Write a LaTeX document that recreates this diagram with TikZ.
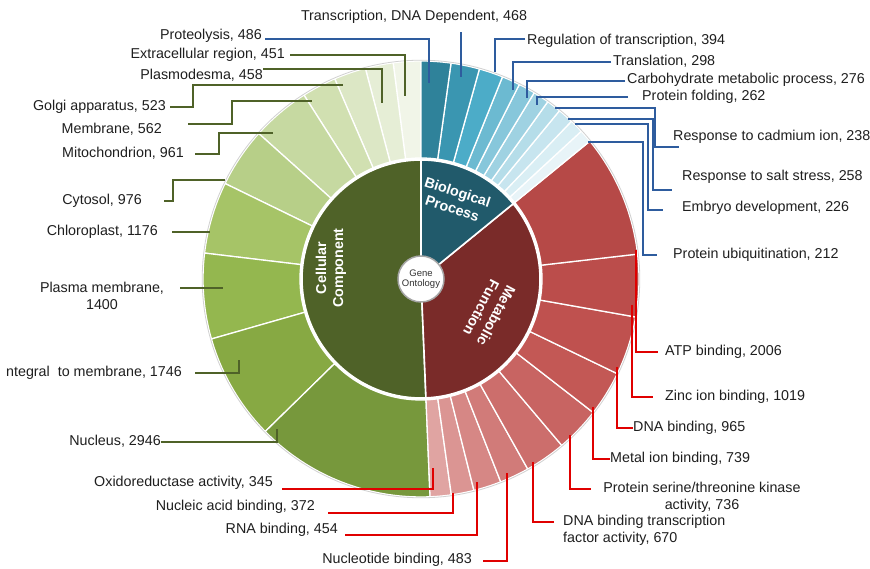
\documentclass[tikz,border=0pt]{standalone}
\usepackage{fontspec}
\setmainfont{Liberation Sans}
\usetikzlibrary{calc}
% inner sectors
\definecolor{ccIn}{HTML}{4F6228}
\definecolor{mfIn}{HTML}{7A2B29}
\definecolor{bpIn}{HTML}{215A6B}
% cellular component
\definecolor{cA}{HTML}{F1F5E8}
\definecolor{cB}{HTML}{E6EED6}
\definecolor{cC}{HTML}{DCE7C5}
\definecolor{cD}{HTML}{D1E0B1}
\definecolor{cE}{HTML}{C6D9A1}
\definecolor{cF}{HTML}{B7CF88}
\definecolor{cG}{HTML}{A6C467}
\definecolor{cH}{HTML}{94B74F}
\definecolor{cI}{HTML}{87A943}
\definecolor{cJ}{HTML}{77983C}
% metabolic function
\definecolor{mA}{HTML}{E0A4A2}
\definecolor{mB}{HTML}{DB9593}
\definecolor{mC}{HTML}{D68785}
\definecolor{mD}{HTML}{D17B79}
\definecolor{mE}{HTML}{CC6E6C}
\definecolor{mF}{HTML}{C86462}
\definecolor{mG}{HTML}{C35855}
\definecolor{mH}{HTML}{BF514F}
\definecolor{mI}{HTML}{BB4D4B}
\definecolor{mJ}{HTML}{B64947}
% biological process
\definecolor{bA}{HTML}{E8F4F8}
\definecolor{bB}{HTML}{D9EEF4}
\definecolor{bC}{HTML}{C7E5EF}
\definecolor{bD}{HTML}{B5DDE9}
\definecolor{bE}{HTML}{9FD2E2}
\definecolor{bF}{HTML}{87C7DB}
\definecolor{bG}{HTML}{6CBAD1}
\definecolor{bH}{HTML}{4CACC8}
\definecolor{bI}{HTML}{3A96B1}
\definecolor{bJ}{HTML}{2F829A}
% leader lines
\definecolor{lgreen}{HTML}{4F6228}
\definecolor{lblue}{HTML}{2E5C9E}
\definecolor{lred}{HTML}{E00000}
\newcommand{\rseg}[3]{\filldraw[fill=#3, draw=white, line width=1.3pt] (#1:121pt) arc[start angle=#1, end angle=#2, radius=121pt] -- (#2:218pt) arc[start angle=#2, end angle=#1, radius=218pt] -- cycle;}
\newcommand{\iseg}[3]{\filldraw[fill=#3, draw=white, line width=1.6pt] (0,0) -- (#1:119pt) arc[start angle=#1, end angle=#2, radius=119pt] -- cycle;}
\begin{document}
\begin{tikzpicture}[x=1pt,y=1pt,
  lab/.style={font=\fontsize{14.3}{16.5}\selectfont, inner sep=0pt, text=black!88},
  lab1/.style={lab, text height=10.5pt, text depth=3pt},
  gl/.style={draw=lgreen, line width=1.4pt},
  bl/.style={draw=lblue, line width=1.4pt},
  rl/.style={draw=lred, line width=1.4pt},
  inlab/.style={font=\bfseries\fontsize{14.3}{17}\selectfont, text=white, align=center, inner sep=0pt},
]
\fill[white] (0,0) rectangle (870,569);
\useasboundingbox (0,0) rectangle (870,569);

\begin{scope}[shift={(421,290)}]
  % outer ring: cellular component
  \rseg{90}{97.34}{cA}
  \rseg{97.34}{104.80}{cB}
  \rseg{104.80}{113.32}{cC}
  \rseg{113.32}{122.47}{cD}
  \rseg{122.47}{138.12}{cE}
  \rseg{138.12}{154.02}{cF}
  \rseg{154.02}{173.17}{cG}
  \rseg{173.17}{195.97}{cH}
  \rseg{195.97}{224.40}{cI}
  \rseg{224.40}{272.38}{cJ}
  % outer ring: metabolic function
  \rseg{272.38}{278.00}{mA}
  \rseg{278.00}{284.06}{mB}
  \rseg{284.06}{291.45}{mC}
  \rseg{291.45}{299.32}{mD}
  \rseg{299.32}{310.23}{mE}
  \rseg{310.23}{322.21}{mF}
  \rseg{322.21}{334.25}{mG}
  \rseg{334.25}{349.96}{mH}
  \rseg{349.96}{366.56}{mI}
  \rseg{366.56}{399.22}{mJ}
  % outer ring: biological process
  \rseg{399.22}{402.67}{bA}
  \rseg{402.67}{406.35}{bB}
  \rseg{406.35}{410.55}{bC}
  \rseg{410.55}{414.43}{bD}
  \rseg{414.43}{418.70}{bE}
  \rseg{418.70}{423.19}{bF}
  \rseg{423.19}{428.05}{bG}
  \rseg{428.05}{434.46}{bH}
  \rseg{434.46}{442.08}{bI}
  \rseg{442.08}{450}{bJ}
  \draw[black!18, line width=0.8pt] (0,0) circle[radius=218.8pt];
  % inner ring
  \iseg{90}{272.38}{ccIn}
  \iseg{272.38}{399.22}{mfIn}
  \iseg{399.22}{450}{bpIn}
  % centre
  \node[circle, fill=white, draw=black!35, line width=1.5pt, minimum size=46pt, inner sep=0pt,
        font=\fontsize{9.5}{10.5}\selectfont, text=black!80, align=center] (go) at (0,0) {Gene\\Ontology};
\end{scope}

% inner labels
\node[inlab, rotate=90] (ccT) at (331,301) {Cellular\\Component};
\node[inlab, rotate=-18] (bpT) at (455,369) {Biological\\Process};
\node[inlab, rotate=-118] (mfT) at (489,257) {Metabolic\\Function};

% segment anchor points
\coordinate (pExt) at (405,473);
\coordinate (pPlas) at (382,466);
\coordinate (pGolgi) at (343,484);
\coordinate (pMem) at (312,468);
\coordinate (pMito) at (273,436);
\coordinate (pCyto) at (225,389);
\coordinate (pChlo) at (210,337);
\coordinate (pPM) at (223,281);
\coordinate (pInt) at (239,209);
\coordinate (pNuc) at (277,140);
\coordinate (pProt) at (429,486);
\coordinate (pTr) at (461,492);
\coordinate (pReg) at (495,497);
\coordinate (pTrl) at (513,479);
\coordinate (pCarb) at (527,471);
\coordinate (pFold) at (537,464);
\coordinate (pCad) at (555,461);
\coordinate (pSalt) at (568,450);
\coordinate (pEmb) at (575,445);
\coordinate (pUbi) at (588,427);
\coordinate (pATP) at (636,319);
\coordinate (pZn) at (632,264);
\coordinate (pDNA) at (617,202);
\coordinate (pMet) at (593,162);
\coordinate (pSer) at (570,134);
\coordinate (pTF) at (533,107);
\coordinate (pNt) at (507,96);
\coordinate (pRNA) at (477,87);
\coordinate (pNab) at (453,76);
\coordinate (pOx) at (433,101);

% cellular component labels
\node[lab1, anchor=east] (ext) at (285,514) {Extracellular region, 451};
\node[lab1, anchor=east] (plas) at (263,493) {Plasmodesma, 458};
\node[lab1, anchor=east] (golgi) at (166,462) {Golgi apparatus, 523};
\node[lab1, anchor=east] (mem) at (162,439) {Membrane, 562};
\node[lab1, anchor=east] (mito) at (184,415) {Mitochondrion, 961};
\node[lab1, anchor=east] (cyto) at (142,368) {Cytosol, 976};
\node[lab1, anchor=east] (chlo) at (158,337) {Chloroplast, 1176};
\node[lab, align=center] (pm) at (102,273) {Plasma membrane,\\1400};
\begin{scope}
  \clip (6,0) rectangle (870,569);
  \node[lab1, anchor=east] (int) at (182,196) {Integral\ \ to membrane, 1746};
\end{scope}
\node[lab1, anchor=east] (nuc) at (161,127) {Nucleus, 2946};

% biological process labels
\node[lab1, anchor=east] (prot) at (262,533) {Proteolysis, 486};
\node[lab1] (tr) at (414,552) {Transcription, DNA Dependent, 468};
\node[lab1, anchor=west] (reg) at (527,528) {Regulation of transcription, 394};
\node[lab1, anchor=west] (trl) at (613,507) {Translation, 298};
\node[lab1, anchor=west] (carb) at (627,489) {Carbohydrate metabolic process, 276};
\node[lab1, anchor=west] (fold) at (642,472) {Protein folding, 262};
\node[lab1, anchor=west] (cad) at (673,432) {Response to cadmium ion, 238};
\node[lab1, anchor=west] (salt) at (682,392) {Response to salt stress, 258};
\node[lab1, anchor=west] (emb) at (682,361) {Embryo development, 226};
\node[lab1, anchor=west] (ubi) at (673,314) {Protein ubiquitination, 212};

% metabolic function labels
\node[lab1, anchor=west] (atp) at (665,217) {ATP binding, 2006};
\node[lab1, anchor=west] (zn) at (665,172) {Zinc ion binding, 1019};
\node[lab1, anchor=west] (dna) at (633,141) {DNA binding, 965};
\node[lab1, anchor=west] (met) at (610,110) {Metal ion binding, 739};
\node[lab, align=center] (ser) at (702,71.5) {Protein serine/threonine kinase\\activity, 736};
\node[lab, align=left, anchor=west] (tf) at (563,38.5) {DNA binding transcription\\factor activity, 670};
\node[lab1, anchor=east] (nt) at (472,9) {Nucleotide binding, 483};
\node[lab1, anchor=east] (rna) at (338,39) {RNA binding, 454};
\node[lab1, anchor=east] (nab) at (315,62) {Nucleic acid binding, 372};
\node[lab1, anchor=east] (ox) at (273,86) {Oxidoreductase activity, 345};

% green leaders
\draw[gl] ([xshift=5pt]ext.east) -| (pExt);
\draw[gl] ([yshift=7pt]plas.east) -| (pPlas);
\draw[gl] ([xshift=4pt]golgi.east) -- ++(23,0) |- (pGolgi);
\draw[gl] ([xshift=26pt,yshift=6pt]mem.east) -- ++(44,0) |- (pMem);
\draw[gl] ([xshift=11pt]mito.east) -- ++(24,0) |- (pMito);
\draw[gl] ([xshift=22pt]cyto.east) -- ++(9,0) |- (pCyto);
\draw[gl] ([xshift=14pt]chlo.east) -- (pChlo);
\draw[gl] ($(pm.east |- pPM)+(16pt,0)$) -- (pPM);
\draw[gl] ([xshift=13pt]int.east) -| (pInt);
\draw[gl] (nuc.east) -| (pNuc);

% blue leaders
\draw[bl] ([xshift=3pt,yshift=-3pt]prot.east) -| (pProt);
\draw[bl] (pTr) -- ($(pTr |- tr.south)+(0,-8pt)$);
\draw[bl] ([xshift=-2pt,yshift=2pt]reg.west) -| (pReg);
\draw[bl] ([xshift=-2pt]trl.west) -| (pTrl);
\draw[bl] ([xshift=-2pt,yshift=-1pt]carb.west) -| (pCarb);
\draw[bl] ([xshift=-14pt]fold.west) -| (pFold);
\draw[bl] (pCad) -| ([xshift=-18pt,yshift=-10pt]cad.west) -- ([xshift=6pt,yshift=-10pt]cad.west);
\draw[bl] (pSalt) -| ([xshift=-29pt,yshift=-13pt]salt.west) -- ([xshift=-10pt,yshift=-13pt]salt.west);
\draw[bl] (pEmb) -| ([xshift=-34pt,yshift=-2pt]emb.west) -- ([xshift=-19pt,yshift=-2pt]emb.west);
\draw[bl] (pUbi) -| ([xshift=-30pt]ubi.west) -- ([xshift=-16pt]ubi.west);

% red leaders
\draw[rl] (pATP) |- ([xshift=-7pt]atp.west);
\draw[rl] (pZn) |- ([xshift=-12pt]zn.west);
\draw[rl] (pDNA) |- (dna.west);
\draw[rl] (pMet) |- (met.west);
\draw[rl] (pSer) |- ($(ser.west)+(-12pt,8.5pt)$);
\draw[rl] (pTF) |- ($(tf.west)+(-9pt,8.5pt)$);
\draw[rl] ([xshift=11pt,yshift=-1pt]nt.east) -| (pNt);
\draw[rl] ([xshift=7pt,yshift=-5pt]rna.east) -| (pRNA);
\draw[rl] ([xshift=13pt,yshift=-6pt]nab.east) -| (pNab);
\draw[rl] ([xshift=9pt,yshift=-6pt]ox.east) -| (pOx);
\end{tikzpicture}
\end{document}
